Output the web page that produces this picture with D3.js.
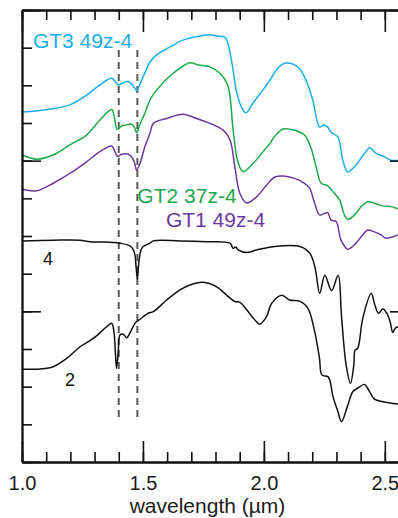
<!DOCTYPE html>
<html>
<head>
<meta charset="utf-8">
<script src="https://cdn.jsdelivr.net/npm/d3@7"></script>
<style>
  html, body { margin: 0; padding: 0; background: #fff; }
  svg { display: block; font-family: "Liberation Sans", Arial, Helvetica, sans-serif; }
</style>
</head>
<body>
<svg id="chart" width="398" height="518"></svg>
<script>
// Offset reflectance spectra, [wavelength µm, offset value]
const gt3 = [
  [1.000, 9.29], [1.099, 9.35], [1.198, 9.48], [1.267, 9.74], [1.322, 10.01], [1.371, 10.19],
  [1.398, 10.01], [1.412, 10.05], [1.439, 10.10], [1.467, 9.92], [1.474, 9.85], [1.488, 10.04],
  [1.508, 10.33], [1.529, 10.62], [1.557, 10.81], [1.612, 11.02], [1.665, 11.20], [1.736, 11.31],
  [1.777, 11.34], [1.806, 11.31], [1.839, 11.28], [1.851, 11.12], [1.868, 10.59], [1.888, 9.80],
  [1.909, 9.40], [1.926, 9.27], [1.955, 9.53], [1.996, 9.88], [2.025, 10.14], [2.058, 10.46],
  [2.091, 10.59], [2.140, 10.49], [2.174, 10.14], [2.202, 9.61], [2.231, 8.89], [2.248, 8.95],
  [2.264, 8.89], [2.277, 8.76], [2.306, 8.63], [2.326, 8.02], [2.347, 7.70], [2.380, 7.88],
  [2.417, 8.20], [2.438, 8.34], [2.463, 8.20], [2.500, 8.10], [2.525, 8.01], [2.554, 8.01]
];
const gt2 = [
  [1.000, 8.15], [1.061, 8.04], [1.129, 8.15], [1.198, 8.42], [1.267, 8.68], [1.322, 9.08],
  [1.371, 9.36], [1.381, 9.17], [1.394, 8.83], [1.412, 8.92], [1.433, 8.95], [1.453, 8.97],
  [1.467, 8.86], [1.474, 8.74], [1.488, 8.97], [1.508, 9.26], [1.529, 9.61], [1.557, 9.88],
  [1.625, 10.32], [1.694, 10.60], [1.729, 10.54], [1.777, 10.49], [1.818, 10.32], [1.848, 10.05],
  [1.860, 9.70], [1.873, 8.81], [1.894, 7.93], [1.914, 7.71], [1.956, 7.93], [1.997, 8.24],
  [2.025, 8.46], [2.044, 8.64], [2.079, 8.84], [2.127, 8.81], [2.168, 8.68], [2.195, 8.33],
  [2.216, 7.84], [2.237, 7.40], [2.264, 7.33], [2.292, 7.13], [2.313, 6.96], [2.333, 6.56],
  [2.347, 6.44], [2.375, 6.56], [2.402, 6.78], [2.430, 6.91], [2.457, 6.87], [2.492, 6.80],
  [2.526, 6.78], [2.554, 6.72]
];
const gt1 = [
  [1.000, 7.24], [1.061, 7.20], [1.129, 7.40], [1.198, 7.66], [1.267, 7.97], [1.322, 8.24],
  [1.371, 8.39], [1.384, 8.24], [1.395, 8.11], [1.412, 8.17], [1.446, 8.15], [1.464, 7.97],
  [1.474, 7.75], [1.488, 7.93], [1.508, 8.37], [1.529, 8.73], [1.543, 8.99], [1.598, 9.12],
  [1.665, 9.23], [1.722, 9.12], [1.777, 8.99], [1.832, 8.81], [1.860, 8.55], [1.880, 7.84],
  [1.901, 7.13], [1.929, 6.88], [1.970, 7.04], [2.011, 7.35], [2.044, 7.56], [2.079, 7.59],
  [2.127, 7.53], [2.168, 7.40], [2.189, 7.27], [2.210, 6.87], [2.230, 6.56], [2.251, 6.60],
  [2.264, 6.62], [2.278, 6.42], [2.299, 6.38], [2.319, 5.89], [2.347, 5.65], [2.381, 5.81],
  [2.402, 5.98], [2.430, 6.16], [2.457, 6.11], [2.485, 6.03], [2.505, 5.94], [2.533, 5.98],
  [2.554, 6.03]
];
const sample4 = [
  [1.000, 5.87], [1.129, 5.89], [1.240, 5.89], [1.281, 5.85], [1.377, 5.83], [1.405, 5.81],
  [1.446, 5.74], [1.459, 5.65], [1.467, 5.50], [1.472, 5.15], [1.477, 4.86], [1.481, 5.15],
  [1.485, 5.41], [1.492, 5.63], [1.501, 5.72], [1.529, 5.81], [1.543, 5.87], [1.653, 5.87],
  [1.763, 5.85], [1.860, 5.81], [1.873, 5.67], [1.884, 5.71], [1.894, 5.63], [1.929, 5.56],
  [1.970, 5.63], [2.052, 5.73], [2.149, 5.72], [2.190, 5.54], [2.211, 5.18], [2.231, 4.48],
  [2.252, 4.96], [2.280, 4.55], [2.307, 4.96], [2.321, 3.86], [2.340, 2.58], [2.358, 2.09],
  [2.372, 2.58], [2.377, 2.97], [2.388, 3.02], [2.409, 3.82], [2.444, 4.48], [2.457, 4.21],
  [2.474, 3.95], [2.492, 4.06], [2.508, 3.95], [2.522, 3.72], [2.533, 3.44], [2.543, 3.55],
  [2.554, 3.59]
];
const sample2 = [
  [1.000, 2.46], [1.074, 2.47], [1.129, 2.53], [1.185, 2.75], [1.240, 3.06], [1.295, 3.28],
  [1.350, 3.59], [1.371, 3.68], [1.380, 3.46], [1.387, 2.80], [1.391, 2.49], [1.398, 2.93],
  [1.405, 3.37], [1.419, 3.39], [1.433, 3.30], [1.446, 3.42], [1.467, 3.68], [1.488, 3.79],
  [1.522, 3.95], [1.543, 3.99], [1.598, 4.30], [1.653, 4.57], [1.694, 4.70], [1.749, 4.77],
  [1.805, 4.65], [1.846, 4.43], [1.880, 4.26], [1.901, 4.24], [1.929, 4.04], [1.963, 3.77],
  [1.983, 3.66], [2.011, 3.86], [2.032, 4.21], [2.074, 4.43], [2.106, 4.30], [2.148, 4.27],
  [2.182, 4.08], [2.210, 3.46], [2.230, 2.75], [2.240, 2.31], [2.266, 2.26], [2.286, 1.73],
  [2.306, 1.34], [2.321, 1.07], [2.347, 1.51], [2.368, 1.87], [2.388, 1.96], [2.416, 2.06],
  [2.437, 1.87], [2.457, 1.67], [2.492, 1.60], [2.554, 1.54]
];

// Absorption band markers (µm)
const bandLines = [1.400, 1.477];
const bandSpan = [1.12, 10.94];

// Axis ticks
const xMajor = [1.0, 1.5, 2.0, 2.5];
const xMinor = d3.range(10, 27).map(d => d / 10);
const yMajor = [0, 4, 8, 12];
const yMinor = d3.range(0, 13);

// Series labels: [text, wavelength, offset]
const labels = [
  ["GT3 49z-4", 1.045, 10.99, "#1aaee8", 21],
  ["GT2 37z-4", 1.477, 6.88, "#1ba84b", 21],
  ["GT1 49z-4", 1.595, 6.24, "#6b3a9e", 21],
  ["4", 1.087, 5.23, "#111", 18],
  ["2", 1.178, 2.02, "#111", 18]
];

const series = [
  { data: gt3, color: "#1aaee8" },
  { data: gt2, color: "#1ba84b" },
  { data: gt1, color: "#6b3a9e" },
  { data: sample4, color: "#111" },
  { data: sample2, color: "#111" }
];

const svg = d3.select("#chart");
const x = d3.scaleLinear().domain([1.0, 2.6]).range([22, 409]);
const y = d3.scaleLinear().domain([0, 12]).range([462, 10]);

// band marker lines
svg.append("g").selectAll("line").data(bandLines).join("line")
  .attr("x1", d => x(d)).attr("x2", d => x(d))
  .attr("y1", y(bandSpan[1])).attr("y2", y(bandSpan[0]))
  .attr("stroke", "#5a5a5a").attr("stroke-width", 2)
  .attr("stroke-dasharray", "7,5");

// spectra
const line = d3.line().x(d => x(d[0])).y(d => y(d[1])).curve(d3.curveCatmullRom.alpha(0.5));
svg.append("g").selectAll("path").data(series).join("path")
  .attr("d", d => line(d.data))
  .attr("fill", "none")
  .attr("stroke", d => d.color)
  .attr("stroke-width", 1.5)
  .attr("stroke-linejoin", "round");

// axes: ticks point inward on all four sides
function styleAxis(g) {
  g.selectAll("path.domain").attr("stroke", "#111").attr("stroke-width", 1.8);
  g.selectAll(".tick line").attr("stroke", "#111").attr("stroke-width", 1.6);
}

const bottomMinor = svg.append("g").attr("transform", `translate(0,${y(0)})`)
  .call(d3.axisBottom(x).tickValues(xMinor).tickSizeInner(-10).tickSizeOuter(0).tickFormat(""));
styleAxis(bottomMinor);
const bottomMajor = svg.append("g").attr("transform", `translate(0,${y(0)})`)
  .call(d3.axisBottom(x).tickValues(xMajor).tickSizeInner(-21).tickSizeOuter(0)
    .tickPadding(14).tickFormat(d3.format(".1f")));
styleAxis(bottomMajor);
bottomMajor.selectAll("text").attr("font-size", 20).attr("fill", "#1a1a1a")
  .attr("font-family", "Liberation Sans, Arial, sans-serif");

const topMinor = svg.append("g").attr("transform", `translate(0,${y(12)})`)
  .call(d3.axisTop(x).tickValues(xMinor).tickSizeInner(-10).tickSizeOuter(0).tickFormat(""));
styleAxis(topMinor);
const topMajor = svg.append("g").attr("transform", `translate(0,${y(12)})`)
  .call(d3.axisTop(x).tickValues(xMajor).tickSizeInner(-22).tickSizeOuter(0).tickFormat(""));
styleAxis(topMajor);

const leftMinor = svg.append("g").attr("transform", `translate(${x(1.0)},0)`)
  .call(d3.axisLeft(y).tickValues(yMinor).tickSizeInner(-10).tickSizeOuter(0).tickFormat(""));
styleAxis(leftMinor);
const leftMajor = svg.append("g").attr("transform", `translate(${x(1.0)},0)`)
  .call(d3.axisLeft(y).tickValues(yMajor).tickSizeInner(-19).tickSizeOuter(0).tickFormat(""));
styleAxis(leftMajor);

const rightMinor = svg.append("g").attr("transform", `translate(${x(2.6)},0)`)
  .call(d3.axisRight(y).tickValues(yMinor).tickSizeInner(-10).tickSizeOuter(0).tickFormat(""));
styleAxis(rightMinor);
const rightMajor = svg.append("g").attr("transform", `translate(${x(2.6)},0)`)
  .call(d3.axisRight(y).tickValues(yMajor).tickSizeInner(-19).tickSizeOuter(0).tickFormat(""));
styleAxis(rightMajor);

// series labels
svg.append("g").selectAll("text").data(labels).join("text")
  .attr("x", d => x(d[1])).attr("y", d => y(d[2]))
  .attr("fill", d => d[3]).attr("font-size", d => d[4])
  .text(d => d[0]);

// axis title
svg.append("text")
  .attr("x", (x(1.0) + 394) / 2 - 0.5).attr("y", 513)
  .attr("text-anchor", "middle").attr("font-size", 21).attr("fill", "#1a1a1a")
  .text("wavelength (µm)");
</script>
</body>
</html>
